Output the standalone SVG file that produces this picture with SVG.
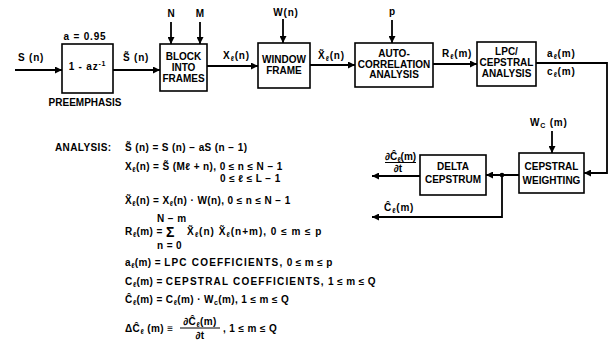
<svg xmlns="http://www.w3.org/2000/svg" width="612" height="348" viewBox="0 0 612 348">
<defs>
<marker id="ah" viewBox="0 0 10 10" refX="10" refY="5" markerWidth="8" markerHeight="7" markerUnits="userSpaceOnUse" orient="auto"><path d="M0,0 L10,5 L0,10 z" fill="#000"/></marker>
</defs>
<style>
text{font-family:"Liberation Sans",Arial,sans-serif;font-weight:bold;font-size:10px;fill:#000}
.c{text-anchor:middle}
.lb{letter-spacing:0.8px}
.eq text{letter-spacing:0.4px}
.eq .w{letter-spacing:1.2px}
.eq .sig{font-size:14px}
.box{fill:#fff;stroke:#000;stroke-width:1.6}
.ln{fill:none;stroke:#000;stroke-width:1.8}
.ar{marker-end:url(#ah)}
.s{font-size:7px}
</style>
<rect width="612" height="348" fill="#fff"/>

<g id="connectors">
<path class="ln ar" d="M15,70 H62"/>
<path class="ln ar" d="M113,70 H160"/>
<path class="ln ar" d="M171,22 V44"/>
<path class="ln ar" d="M200,22 V44"/>
<path class="ln ar" d="M207,66 H258"/>
<path class="ln ar" d="M283,19 V43"/>
<path class="ln ar" d="M310,65 H355"/>
<path class="ln ar" d="M392,20 V43"/>
<path class="ln ar" d="M433,64 H477"/>
<path class="ln ar" d="M536,63 H607 V173 H584"/>
<path class="ln ar" d="M552,131 V153"/>
<path class="ln ar" d="M519,175 H486"/>
<circle cx="502" cy="175" r="2.3" fill="#000"/>
<path class="ln ar" d="M502,175 V217 H372"/>
<path class="ln ar" d="M420,176 H372"/>
<text class="lb" x="18" y="61">S (n)</text>
<text class="lb" x="123" y="61">S&#771; (n)</text>
<text class="c" x="171" y="17">N</text>
<text class="c" x="200" y="17">M</text>
<text class="lb" x="223" y="59">X<tspan class="s" dy="2">ℓ</tspan><tspan dy="-2">(n)</tspan></text>
<text class="c lb" x="286" y="16">W(n)</text>
<text class="lb" x="318" y="59">X&#771;<tspan class="s" dy="2">ℓ</tspan><tspan dy="-2">(n)</tspan></text>
<text class="c" x="392" y="15">p</text>
<text class="lb" x="442" y="57">R<tspan class="s" dy="2">ℓ</tspan><tspan dy="-2">(m)</tspan></text>
<text class="lb" x="547" y="57">a<tspan class="s" dy="2">ℓ</tspan><tspan dy="-2">(m)</tspan></text>
<text class="lb" x="547" y="75">c<tspan class="s" dy="2">ℓ</tspan><tspan dy="-2">(m)</tspan></text>
<text class="lb" x="530" y="126">W<tspan class="s" dy="2">C</tspan><tspan dy="-2"> (m)</tspan></text>
<text x="385" y="160">∂Ĉ<tspan class="s" dy="2">ℓ</tspan><tspan dy="-2">(m)</tspan></text>
<path d="M385,162.5 H416" stroke="#000" stroke-width="1"/>
<text class="c" x="398" y="172">∂t</text>
<text class="lb" x="384" y="211">Ĉ<tspan class="s" dy="2">ℓ</tspan><tspan dy="-2">(m)</tspan></text>
</g>

<g id="preemphasis">
<rect class="box" x="62" y="44" width="51" height="49"/>
<text class="c lb" x="87.5" y="70">1 - az<tspan class="s" dy="-4">-1</tspan></text>
<text class="c lb" x="85" y="40">a = 0.95</text>
<text class="c" x="85" y="106">PREEMPHASIS</text>
</g>

<g id="block">
<rect class="box" x="160" y="44" width="47" height="47"/>
<text class="c" x="183.5" y="60">BLOCK</text>
<text class="c" x="183.5" y="71">INTO</text>
<text class="c" x="183.5" y="82">FRAMES</text>
</g>

<g id="window">
<rect class="box" x="258" y="43" width="52" height="45"/>
<text class="c" x="284" y="63">WINDOW</text>
<text class="c" x="284" y="74">FRAME</text>
</g>

<g id="autocorr">
<rect class="box" x="355" y="43" width="78" height="44"/>
<text class="c" x="394" y="57">AUTO-</text>
<text class="c" x="394" y="67.5">CORRELATION</text>
<text class="c" x="394" y="78">ANALYSIS</text>
</g>

<g id="lpc">
<rect class="box" x="477" y="42" width="59" height="44"/>
<text class="c" x="506.5" y="55">LPC/</text>
<text class="c" x="506.5" y="66">CEPSTRAL</text>
<text class="c" x="506.5" y="77">ANALYSIS</text>
</g>

<g id="cepweight">
<rect class="box" x="519" y="153" width="65" height="40"/>
<text class="c" x="551.5" y="170">CEPSTRAL</text>
<text class="c" x="551.5" y="184">WEIGHTING</text>
</g>

<g id="delta">
<rect class="box" x="420" y="155" width="66" height="40"/>
<text class="c" x="453" y="170">DELTA</text>
<text class="c" x="453" y="183">CEPSTRUM</text>
</g>

<g id="equations" class="eq">
<text x="55" y="151">ANALYSIS:</text>
<text x="125" y="151">S&#771; (n) = S (n) − aS (n − 1)</text>
<text x="125" y="170">X<tspan class="s" dy="2">ℓ</tspan><tspan dy="-2">(n) = S&#771; (Mℓ + n),  0 ≤ n ≤ N − 1</tspan></text>
<text x="220" y="182">0 ≤ ℓ ≤ L − 1</text>
<text x="125" y="204">X&#771;<tspan class="s" dy="2">ℓ</tspan><tspan dy="-2">(n) = X</tspan><tspan class="s" dy="2">ℓ</tspan><tspan dy="-2">(n) · W(n), 0 ≤ n ≤ N − 1</tspan></text>
<text x="157" y="222">N − m</text>
<text x="125" y="235">R<tspan class="s" dy="2">ℓ</tspan><tspan dy="-2">(m) =</tspan></text>
<text class="sig" x="166" y="237">Σ</text>
<text x="187" y="235" style="letter-spacing:1px">X&#771;<tspan class="s" dy="2">ℓ</tspan><tspan dy="-2">(n) X&#771;</tspan><tspan class="s" dy="2">ℓ</tspan><tspan dy="-2">(n+m), 0 ≤ m ≤ p</tspan></text>
<text x="157" y="249">n = 0</text>
<text x="125" y="266">a<tspan class="s" dy="2">ℓ</tspan><tspan dy="-2">(m) = </tspan><tspan class="w">LPC COEFFICIENTS,</tspan> 0 ≤ m ≤ p</text>
<text x="125" y="285">C<tspan class="s" dy="2">ℓ</tspan><tspan dy="-2">(m) = </tspan><tspan class="w">CEPSTRAL  COEFFICIENTS,</tspan> 1 ≤ m ≤ Q</text>
<text x="125" y="303">Ĉ<tspan class="s" dy="2">ℓ</tspan><tspan dy="-2">(m) = C</tspan><tspan class="s" dy="2">ℓ</tspan><tspan dy="-2">(m) · W</tspan><tspan class="s" dy="2">c</tspan><tspan dy="-2">(m), 1 ≤ m ≤ Q</tspan></text>
<text x="125" y="332">ΔĈ<tspan class="s" dy="2">ℓ</tspan><tspan dy="-2"> (m) ≡</tspan></text>
<text class="c" x="200" y="325">∂Ĉ<tspan class="s" dy="2">ℓ</tspan><tspan dy="-2">(m)</tspan></text>
<path d="M180,328 H220" stroke="#000" stroke-width="1"/>
<text class="c" x="200" y="339">∂t</text>
<text x="223" y="332">, 1 ≤ m ≤ Q</text>
</g>
</svg>
